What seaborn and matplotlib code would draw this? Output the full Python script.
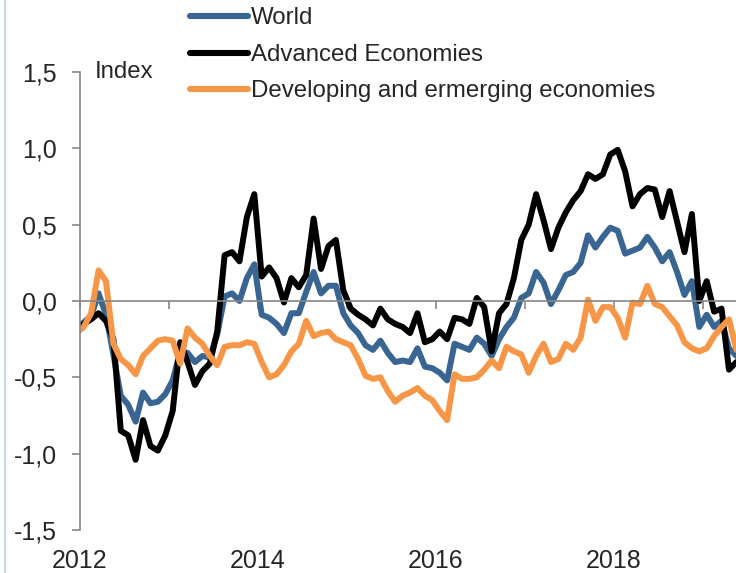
import matplotlib
matplotlib.use("Agg")
import matplotlib.pyplot as plt
from matplotlib.lines import Line2D
from matplotlib.ticker import FuncFormatter, MultipleLocator
import seaborn as sns
import pandas as pd

# ---- data (monthly, Dec 2011 .. May 2019) ----
months = pd.period_range("2011-12", "2019-05", freq="M")

world = [-0.18, -0.14, -0.10, 0.05, -0.09, -0.35, -0.62, -0.68, -0.79, -0.60,
         -0.67, -0.66, -0.61, -0.52, -0.33, -0.34, -0.40, -0.36, -0.37, -0.22,
         0.03, 0.05, 0.00, 0.15, 0.24, -0.09, -0.11, -0.15, -0.21, -0.08,
         -0.08, 0.06, 0.19, 0.05, 0.10, 0.10, -0.08, -0.16, -0.21, -0.29,
         -0.32, -0.26, -0.34, -0.40, -0.39, -0.40, -0.31, -0.43, -0.44, -0.47,
         -0.52, -0.28, -0.30, -0.32, -0.24, -0.28, -0.36, -0.25, -0.17, -0.11,
         0.02, 0.05, 0.19, 0.12, -0.02, 0.07, 0.17, 0.19, 0.25, 0.43,
         0.35, 0.42, 0.48, 0.46, 0.31, 0.33, 0.35, 0.42, 0.35, 0.26,
         0.32, 0.19, 0.04, 0.13, -0.17, -0.09, -0.17, -0.13, -0.31, -0.36]

advanced = [-0.20, -0.15, -0.12, -0.08, -0.13, -0.25, -0.85, -0.88, -1.04, -0.78,
            -0.95, -0.98, -0.88, -0.72, -0.27, -0.40, -0.55, -0.46, -0.41, -0.20,
            0.30, 0.32, 0.26, 0.55, 0.70, 0.16, 0.22, 0.15, -0.01, 0.15,
            0.09, 0.17, 0.54, 0.21, 0.36, 0.40, 0.07, -0.05, -0.09, -0.12,
            -0.16, -0.05, -0.12, -0.15, -0.17, -0.21, -0.08, -0.27, -0.25, -0.20,
            -0.25, -0.11, -0.12, -0.15, 0.02, -0.04, -0.33, -0.08, -0.02, 0.15,
            0.40, 0.50, 0.70, 0.53, 0.34, 0.48, 0.58, 0.66, 0.72, 0.83,
            0.80, 0.83, 0.96, 0.99, 0.85, 0.62, 0.70, 0.74, 0.73, 0.55,
            0.72, 0.52, 0.32, 0.57, 0.00, 0.13, -0.07, -0.05, -0.45, -0.40]

developing = [-0.21, -0.17, -0.08, 0.20, 0.13, -0.28, -0.38, -0.42, -0.48, -0.36,
              -0.31, -0.26, -0.25, -0.26, -0.41, -0.18, -0.24, -0.28, -0.36, -0.42,
              -0.30, -0.29, -0.29, -0.27, -0.28, -0.40, -0.50, -0.48, -0.42, -0.33,
              -0.28, -0.13, -0.23, -0.21, -0.20, -0.25, -0.27, -0.29, -0.38, -0.49,
              -0.51, -0.50, -0.59, -0.66, -0.62, -0.60, -0.57, -0.62, -0.65, -0.72,
              -0.78, -0.48, -0.51, -0.51, -0.50, -0.45, -0.39, -0.44, -0.30, -0.33,
              -0.35, -0.47, -0.36, -0.28, -0.40, -0.38, -0.28, -0.32, -0.24, 0.01,
              -0.13, -0.04, -0.04, -0.11, -0.24, -0.01, -0.02, 0.10, -0.02, -0.04,
              -0.10, -0.16, -0.27, -0.31, -0.33, -0.31, -0.23, -0.17, -0.12, -0.32]

series_names = ["World", "Advanced Economies", "Developing and ermerging economies"]
series_colors = ["#386592", "#000000", "#F79646"]
year_labels = [2012, 2014, 2016, 2018]
y_ticks = [-1.5, -1.0, -0.5, 0.0, 0.5, 1.0, 1.5]

# ---- long-form table ----
xpos = [p.year + (p.month - 0.5) / 12 for p in months]
frames = []
for name, vals in zip(series_names, [world, advanced, developing]):
    frames.append(pd.DataFrame({"date": xpos, "value": vals, "series": name}))
df = pd.concat(frames, ignore_index=True)

# ---- style ----
sns.set_style("white")
plt.rcParams["font.family"] = ["Liberation Sans", "DejaVu Sans"]

gray = "#868686"
fig = plt.figure(figsize=(7.36, 5.73), dpi=100)
ax = fig.add_axes([80 / 736, 43 / 573, 656 / 736, 458 / 573])

sns.lineplot(data=df, x="date", y="value", hue="series", hue_order=series_names,
             palette=dict(zip(series_names, series_colors)), linewidth=4.3,
             legend=False, ax=ax)

ax.set_xlim(2012.0, 2012.0 + 656 / 89)
ax.set_ylim(-1.5, 1.5)
ax.set_xlabel("")
ax.set_ylabel("")

# y axis
ax.set_yticks(y_ticks)
ax.yaxis.set_major_formatter(FuncFormatter(lambda v, p: f"{v:.1f}".replace(".", ",")))
ax.tick_params(axis="y", direction="out", length=5.5, width=1.2, color=gray,
               labelsize=18, pad=11, left=True)

# spines
for s in ["top", "right"]:
    ax.spines[s].set_visible(False)
ax.spines["left"].set_color(gray)
ax.spines["left"].set_linewidth(1.2)
ax.spines["bottom"].set_position(("data", 0))
ax.spines["bottom"].set_color(gray)
ax.spines["bottom"].set_linewidth(1.2)

# x ticks on zero line, labels at bottom
ax.xaxis.set_major_locator(MultipleLocator(1))
ax.tick_params(axis="x", direction="out", length=5.5, width=1.2, color=gray,
               labelbottom=False, bottom=True)
sec = ax.secondary_xaxis(0)
sec.set_xticks(year_labels)
sec.set_xticklabels([str(y) for y in year_labels])
sec.tick_params(length=0, pad=14, labelsize=18)
sec.spines["bottom"].set_visible(False)

# legend
handles = [Line2D([0], [0], color=c, lw=4.4, solid_capstyle="round") for c in series_colors]
ax.legend(handles, series_names, loc="upper left",
          bbox_to_anchor=(190 / 736, 1 - 7.5 / 573), bbox_transform=fig.transFigure,
          frameon=False, borderpad=0, borderaxespad=0, handlelength=2.4,
          handletextpad=0.15, labelspacing=0.6, fontsize=17.3)

fig.text(95 / 736, 1 - 72 / 573, "Index", ha="left", va="center", fontsize=17.3)

# light frame line at the left edge
fig.add_artist(Line2D([5 / 736, 5 / 736], [0, 1], color="#C6D7EE", lw=1.5,
                      transform=fig.transFigure))

fig.savefig("out.png", dpi=100)
